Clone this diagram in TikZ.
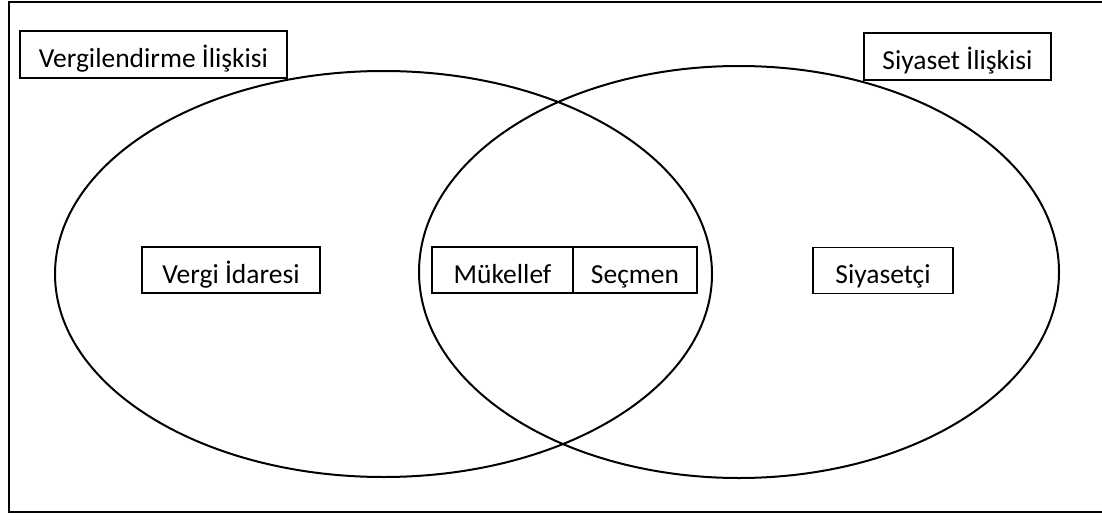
\documentclass[tikz,border=0pt]{standalone}
\usepackage{fontspec}
\setmainfont{Carlito}
\usetikzlibrary{positioning}
\tikzset{
  frame/.style={line width=2pt},
  set/.style={line width=2pt},
  box text/.style={font=\fontsize{27.5}{32}\selectfont, text height=26pt, text depth=0pt, inner sep=0pt, outer sep=0pt},
  label box/.style={draw, line width=1.2pt, fill=white, minimum height=47pt, box text},
  role box/.style={draw, line width=1.2pt, minimum height=46pt, box text}
}
\begin{document}
\begin{tikzpicture}[x=1pt, y=-1pt]
  \useasboundingbox (0,0) rectangle (1102,519);
  \clip (0,0) rectangle (1102,519);
  % outer frame, right edge cut off
  \draw [frame] (9,2) rectangle (1115,512);
  % the two relations
  \draw [set] (383.5,274) ellipse [x radius=328.5, y radius=203];
  \draw [set] (739,272) ellipse [x radius=320, y radius=206];
  \node [label box, minimum width=267pt] (vergilendirme) at (153.5,54.5) {Vergilendirme İlişkisi};
  \node [label box, minimum width=187pt] (siyaset) at (957.5,56.5) {Siyaset İlişkisi};
  % actors
  \node [role box, minimum width=178pt] (idare) at (231,270) {Vergi İdaresi};
  \node [role box, minimum width=141pt] (mukellef) at (502.5,270) {Mükellef};
  \node [role box, minimum width=124pt, right=0pt of mukellef] (secmen) {Seçmen};
  \node [role box, minimum width=140pt] (siyasetci) at (883,270.5) {Siyasetçi};
\end{tikzpicture}
\end{document}
